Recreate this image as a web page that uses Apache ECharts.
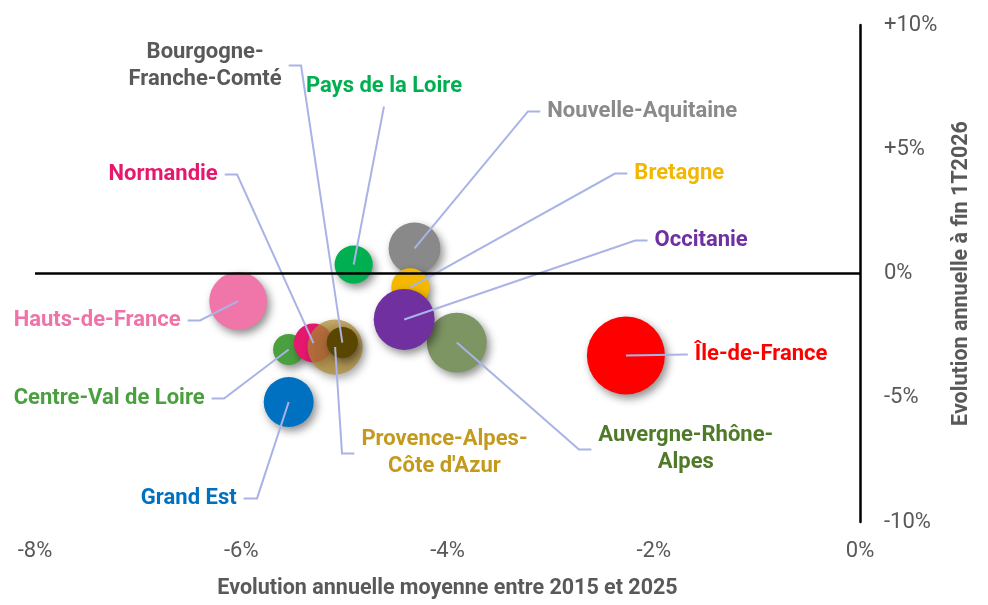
<!DOCTYPE html>
<html>
<head>
<meta charset="utf-8">
<script src="https://cdn.jsdelivr.net/npm/echarts@6/dist/echarts.min.js"></script>
<style>
  html, body { margin: 0; padding: 0; background: #ffffff; }
  #chart { width: 988px; height: 605px; }
</style>
</head>
<body>
<div id="chart"></div>
<script>
// Regions, drawn in this order (later bubbles sit on top)
const regions = [
  'Île-de-France', 'Auvergne-Rhône-Alpes', 'Nouvelle-Aquitaine', 'Bretagne',
  'Occitanie', 'Pays de la Loire', 'Hauts-de-France', 'Centre-Val de Loire',
  'Normandie', "Provence-Alpes-Côte d'Azur", 'Bourgogne-Franche-Comté', 'Grand Est'
];
// Average annual change 2015-2025 (%)
const evolLongTerm = [-2.27, -3.91, -4.32, -4.36, -4.42, -4.91, -6.03, -5.54, -5.30, -5.09, -5.02, -5.54];
// Annual change to end of Q1 2026 (%)
const evolRecent = [-3.30, -2.78, 1.01, -0.56, -1.85, 0.36, -1.11, -3.06, -2.80, -2.96, -2.78, -5.17];
// Relative bubble weight (area)
const bubbleWeight = [100, 59, 44, 24, 61, 24, 55, 16, 25, 50, 16, 41];

// Axis ticks and their labels
const xTicks = [-8, -6, -4, -2, 0];
const xTickLabels = ['-8%', '-6%', '-4%', '-2%', '0%'];
const yTicks = [-10, -5, 0, 5, 10];
const yTickLabels = ['-10%', '-5%', '0%', '+5%', '+10%'];

// Callout text (line breaks as printed)
const calloutText = [
  'Île-de-France', 'Auvergne-Rhône-\nAlpes', 'Nouvelle-Aquitaine', 'Bretagne',
  'Occitanie', 'Pays de la Loire', 'Hauts-de-France', 'Centre-Val de Loire',
  'Normandie', "Provence-Alpes-\nCôte d'Azur", 'Bourgogne-\nFranche-Comté', 'Grand Est'
];

// Callout layout: leader elbow (in axis units), label side, hook length
const calloutX = [-1.67, -2.725, -3.22, -2.376, -2.18, -4.616, -6.40, -6.167, -6.04, -5.023, -5.42, -5.847];
const calloutY = [-3.26, -7.08, 6.52, 4.02, 1.33, 6.72, -1.89, -5.03, 3.98, -7.24, 8.37, -9.05];
const calloutSide = ['right', 'right', 'right', 'right', 'right', 'top', 'left', 'left', 'left', 'right', 'left', 'left'];
const calloutHook = [0, 0.12, 0.12, 0.12, 0.12, 0, 0.12, 0.12, 0.12, 0.12, 0.12, 0.13];

// Colours
const bubbleColors = [
  '#ff0000', '#7d9463', '#898989', '#f5b800', '#7030a0', '#00b050',
  '#f075a8', '#4a9f3f', '#e5186e', 'rgba(176,138,48,0.72)', '#5a4600', '#0070c0'
];
const labelColors = [
  '#ff0000', '#4f7b28', '#8a8a8a', '#f2b700', '#7030a0', '#00b050',
  '#ef72a8', '#4a9f3f', '#e5186e', '#c49a1c', '#595959', '#0070c0'
];

const FONT = 'Roboto, "Noto Sans", sans-serif';
const AXIS_GREY = '#595959';
const LEADER = '#a9b3e6';

const bubbleData = regions.map((name, i) => ({
  name: name,
  value: [evolLongTerm[i], evolRecent[i], bubbleWeight[i]],
  itemStyle: { color: bubbleColors[i] }
}));

const leaderData = regions.map((name, i) => {
  const dir = calloutSide[i] === 'left' ? -1 : 1;
  const coords = [[evolLongTerm[i], evolRecent[i]], [calloutX[i], calloutY[i]]];
  if (calloutHook[i] > 0) coords.push([calloutX[i] + dir * calloutHook[i], calloutY[i]]);
  return { coords: coords };
});

const labelData = regions.map((name, i) => {
  const dir = calloutSide[i] === 'left' ? -1 : 1;
  const text = calloutText[i];
  const multi = text.indexOf('\n') >= 0;
  return {
    name: name,
    value: [calloutX[i] + dir * calloutHook[i], calloutY[i]],
    label: {
      position: calloutSide[i],
      color: labelColors[i],
      formatter: multi ? text.split('\n').map(t => '{c|' + t + '}').join('\n') : text,
      rich: { c: { align: 'center', color: labelColors[i], fontSize: 22, fontWeight: 'bold', fontFamily: FONT, lineHeight: 27 } }
    }
  };
});

const chart = echarts.init(document.getElementById('chart'), null, { renderer: 'canvas' });
chart.setOption({
  backgroundColor: '#ffffff',
  animation: false,
  textStyle: { fontFamily: FONT },
  grid: { left: 35, right: 128, top: 25, bottom: 83, containLabel: false },
  xAxis: {
    type: 'value', min: -8, max: 0, interval: 2, position: 'bottom',
    axisLine: { show: false, onZero: false },
    axisTick: { show: false },
    splitLine: { show: false },
    axisLabel: {
      margin: 18, fontSize: 22, color: AXIS_GREY, fontFamily: FONT,
      formatter: v => xTickLabels[xTicks.indexOf(v)]
    },
    name: 'Evolution annuelle moyenne entre 2015 et 2025',
    nameLocation: 'middle', nameGap: 56,
    nameTextStyle: { fontSize: 21.5, fontWeight: 'bold', color: AXIS_GREY, fontFamily: FONT }
  },
  yAxis: {
    type: 'value', min: -10, max: 10, interval: 5, position: 'right',
    axisLine: { show: true, onZero: false, lineStyle: { color: '#000000', width: 2.5 } },
    axisTick: { show: false },
    splitLine: { show: false },
    axisLabel: {
      margin: 24, fontSize: 22, color: AXIS_GREY, fontFamily: FONT,
      formatter: v => yTickLabels[yTicks.indexOf(v)]
    },
    name: 'Evolution annuelle à fin 1T2026',
    nameLocation: 'middle', nameRotate: 90, nameGap: 91,
    nameTextStyle: { fontSize: 21.5, fontWeight: 'bold', color: AXIS_GREY, fontFamily: FONT }
  },
  series: [
    {
      // zero baseline
      type: 'scatter', data: [], z: 1, silent: true,
      markLine: {
        silent: true, symbol: 'none', label: { show: false },
        lineStyle: { color: '#000000', width: 2.5, type: 'solid' },
        data: [{ yAxis: 0 }]
      }
    },
    {
      type: 'scatter', z: 2, silent: true,
      data: bubbleData,
      symbolSize: v => 7.8 * Math.sqrt(v[2]),
      itemStyle: {
        opacity: 1,
        shadowBlur: 8, shadowOffsetX: 3, shadowOffsetY: 4,
        shadowColor: 'rgba(0,0,0,0.45)'
      }
    },
    {
      type: 'lines', coordinateSystem: 'cartesian2d', polyline: true, z: 3, silent: true,
      data: leaderData,
      lineStyle: { color: LEADER, width: 2, opacity: 1 }
    },
    {
      type: 'scatter', z: 4, silent: true,
      symbolSize: 0,
      itemStyle: { opacity: 1 },
      data: labelData,
      label: {
        show: true, distance: 7,
        fontSize: 22, fontWeight: 'bold', fontFamily: FONT, lineHeight: 27
      }
    }
  ]
});
</script>
</body>
</html>
